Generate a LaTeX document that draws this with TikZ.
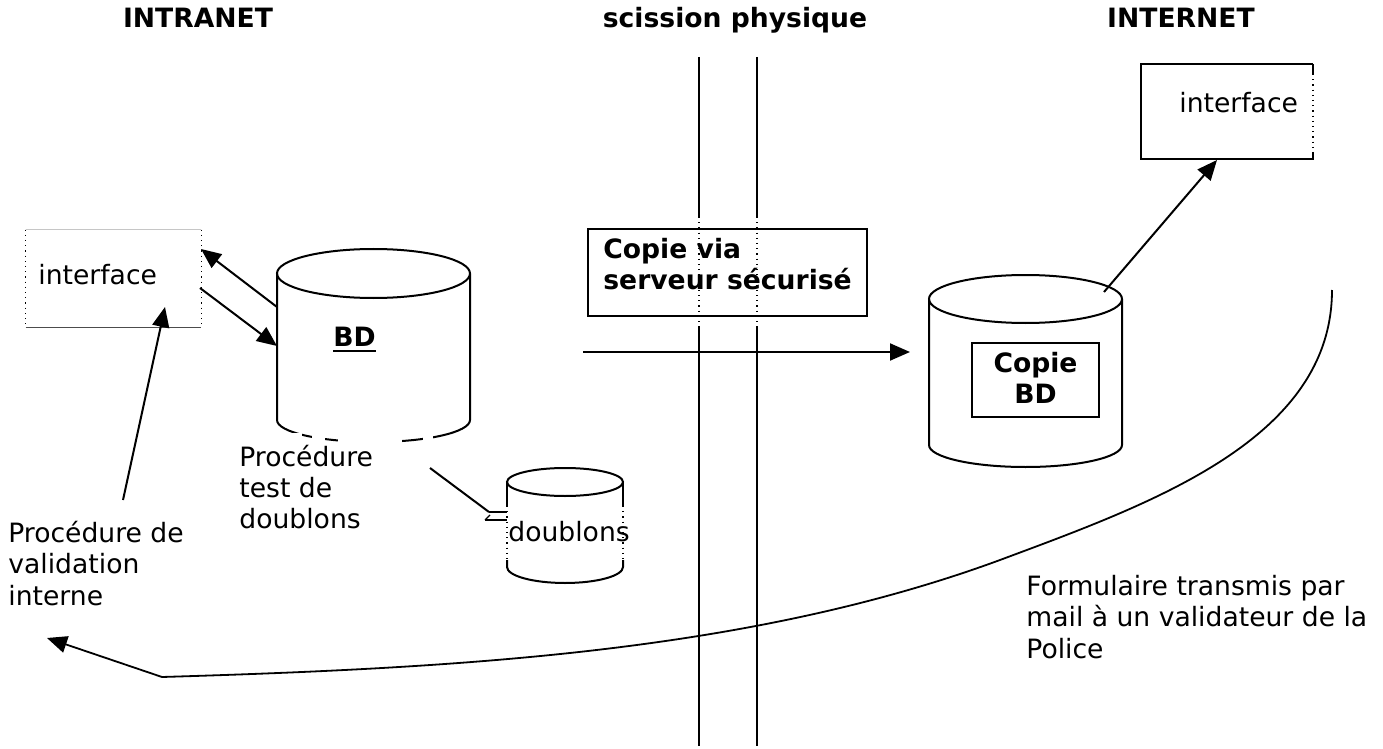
\documentclass[tikz,border=0pt]{standalone}
\usepackage{fontspec}
\setmainfont{DejaVu Sans}
\usetikzlibrary{arrows.meta}
\newcommand\mylines[2][l]{\begin{tabular}[t]{@{}#1@{}}#2\end{tabular}}
\begin{document}
\begin{tikzpicture}[x=0.5pt,y=-0.5pt,
  txt/.style={inner sep=0pt, anchor=base west, font=\fontsize{13.3pt}{15.75pt}\selectfont},
  btxt/.style={txt, font=\fontsize{13.3pt}{15.75pt}\selectfont\bfseries},
  ln/.style={line width=1pt},
  thinln/.style={line width=0.6pt},
  arr/.style={ln, -{Triangle[length=10pt,width=8.5pt]}},
  box/.style={inner sep=0pt, draw=none}]
\useasboundingbox (0,0) rectangle (1383,749);

% headers
\node[btxt, anchor=base] (hintra) at (198,28) {INTRANET};
\node[btxt, anchor=base] (hsciss) at (735,28) {scission physique};
\node[btxt, anchor=base] (hinter) at (1181,28) {INTERNET};

% physical split lines
\foreach \xx/\nm in {699/va, 757/vb}{
  \coordinate (\nm t) at (\xx,57);
  \coordinate (\nm a) at (\xx,217);
  \coordinate (\nm b) at (\xx,327);
  \coordinate (\nm e) at (\xx,746);
  \draw[ln] (\nm t) -- (\nm a);
  \draw[thinln, dotted] (\nm a) -- (\nm b);
  \draw[ln] (\nm b) -- (\nm e);
}

% secure server box
\node[draw, line width=1pt, inner sep=0pt, minimum width=139.5pt, minimum height=43.5pt] (srv) at (727.5,272.5) {};
\node[btxt] (srvt) at (603,258) {\mylines{Copie via\\serveur sécurisé}};

% left interface box
\node[box, minimum width=87.5pt, minimum height=48.5pt] (ifl) at (113.5,278.5) {};
\draw[gray!45, line width=0.5pt] (ifl.north west) -- (ifl.north east);
\draw[dotted, thinln] (ifl.north west) -- (ifl.south west);
\draw[dotted, thinln] (ifl.north east) -- (ifl.south east);
\draw[gray!60!black, line width=0.6pt] (ifl.south west) -- (ifl.south east);
\node[txt] (iflt) at (38,285) {interface};

% BD cylinder
\node[box, minimum width=96.5pt, minimum height=84pt] (bd) at (373.5,345) {};
\draw[ln] (277,273.5) -- (277,420) arc[start angle=180, end angle=0, x radius=96.5, y radius=22] -- (470,273.5);
\draw[ln] (373.5,273.5) ellipse[x radius=96.5, y radius=24.5];
\fill[white] (292,433) rectangle (302,450);
\fill[white] (312,433) rectangle (325,450);
\fill[white] (338,433) rectangle (402,450);
\fill[white] (423,433) rectangle (433,450);
\node[btxt] (bdt) at (333,346) {BD};
\draw[line width=1.1pt] ([yshift=-2.6pt]bdt.base west) -- ([yshift=-2.6pt]bdt.base east);

% arrows interface <-> BD
\coordinate (bdl1) at (277,307);
\coordinate (ifl1) at (201,249);
\coordinate (ifl2) at (200,288);
\coordinate (bdl2) at (277,346);
\draw[arr] (bdl1) -- (ifl1);
\draw[arr] (ifl2) -- (bdl2);

% procedure test de doublons
\node[txt] (ptd) at (239,466) {\mylines{Procédure\\test de\\doublons}};
\coordinate (d1) at (430,468);
\coordinate (d2) at (489,512);
\draw[ln] (d1) -- (d2);
\draw[thinln] (d2) -- (507,512);
\draw[thinln] (485,520) -- (507,520);
\draw[thinln] (485,520) -- (490,515);

% doublons cylinder
\node[box, minimum width=58pt, minimum height=50pt] (dbl) at (565,532) {};
\draw[ln] (565,482) ellipse[x radius=58, y radius=14];
\draw[ln] (507,482) -- (507,506);
\draw[ln] (623,482) -- (623,506);
\draw[thinln, dotted] (507,506) -- (507,560);
\draw[thinln, dotted] (623,506) -- (623,560);
\draw[ln] (507,560) -- (507,567) arc[start angle=180, end angle=0, x radius=58, y radius=16] -- (623,560);
\node[txt] (dbt) at (508,541) {doublons};

% validation procedure
\node[txt] (pv) at (8,542) {\mylines{Procédure de\\validation\\interne}};
\coordinate (pva) at (123,500);
\coordinate (iflb) at (165,307);
\draw[arr] (pva) -- (iflb);

% copy arrow
\coordinate (ca) at (583,352);
\coordinate (cb) at (910,352);
\draw[arr] (ca) -- (cb);

% Copie BD cylinder
\node[box, minimum width=96.5pt, minimum height=84pt] (cbd) at (1025.5,383) {};
\draw[ln] (929,299) -- (929,445) arc[start angle=180, end angle=0, x radius=96.5, y radius=22] -- (1122,299);
\draw[ln] (1025.5,299) ellipse[x radius=96.5, y radius=24];
\node[draw, line width=1pt, inner sep=0pt, minimum width=63.5pt, minimum height=37pt] (cbx) at (1035.5,380) {};
\node[btxt, anchor=base] (cbxt) at (1035.5,372) {\mylines[c]{Copie\\BD}};

% right interface box
\node[box, minimum width=86pt, minimum height=47.5pt] (ifr) at (1227,111.5) {};
\draw[ln] (1313,64) -- (1141,64) -- (1141,159) -- (1313,159) -- (1313,152);
\draw[ln] (1313,64) -- (1313,74);
\draw[thinln, dotted] (1313,74) -- (1313,152);
\node[txt] (ifrt) at (1179,113) {interface};
\coordinate (cc) at (1104,292);
\coordinate (ifrb) at (1217,160);
\draw[arr] (cc) -- (ifrb);

% mail to police
\coordinate (f0) at (1332,290);
\coordinate (f1) at (1000,560);
\coordinate (f2) at (162,677);
\coordinate (f3) at (47,638);
\draw[line width=0.9pt, -{Triangle[length=10pt,width=8.5pt]}] (f0) .. controls (1332,440) and (1150,504) .. (f1) .. controls (750,652) and (462,668) .. (f2) -- (f3);
\node[txt] (fm) at (1026,595) {\mylines{Formulaire transmis par\\mail à un validateur de la\\Police}};
\end{tikzpicture}
\end{document}
